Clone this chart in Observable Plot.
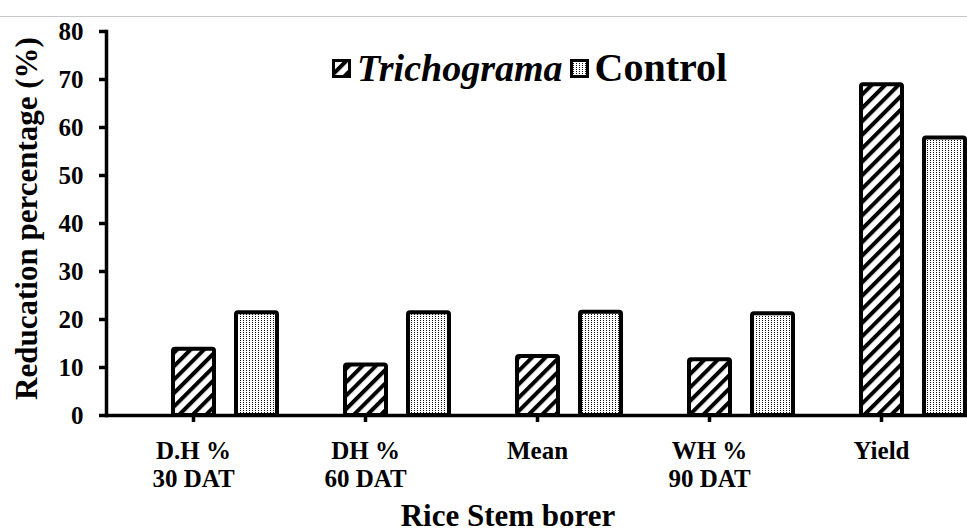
<!DOCTYPE html>
<html><head><meta charset="utf-8">
<script src="https://cdn.jsdelivr.net/npm/d3@7"></script>
<script src="https://cdn.jsdelivr.net/npm/@observablehq/plot@0.6"></script>
<style>
body{margin:0;background:#fff;}
#wrap{position:relative;width:967px;height:532px;font-family:"Liberation Serif",serif;overflow:hidden;}
#topline{position:absolute;left:0;top:15.5px;width:967px;height:1.5px;background:#c8c8c8;}
#legend{position:absolute;left:332px;top:48px;display:flex;align-items:center;font-family:"Liberation Serif",serif;font-weight:bold;font-size:38px;line-height:1;color:#000;white-space:nowrap;}
#legend .sw{display:block;width:19px;height:19px;margin-right:6px;}
#legend .it{font-style:italic;margin-right:7px;}
#legend .up{font-size:40px;}
#chart svg{display:block;}
</style></head><body>
<div id="wrap"><div id="topline"></div><div id="chart"></div><div id="legend"></div></div>
<script>
const categories = ["D.H %\n30 DAT", "DH %\n60 DAT", "Mean", "WH %\n90 DAT", "Yield"];
const seriesNames = ["Trichograma", "Control"];
const trichogramaValues = [13.8, 10.5, 12.3, 11.6, 68.9];
const controlValues = [21.4, 21.4, 21.5, 21.2, 57.8];
const yTicks = [0, 10, 20, 30, 40, 50, 60, 70, 80];
const xLabel = "Rice Stem borer";
const yLabel = "Reducation percentage (%)";

const FONT = "Liberation Serif, serif";
const trichData = categories.map((c, i) => ({category: c, series: seriesNames[0], value: trichogramaValues[i]}));
const controlData = categories.map((c, i) => ({category: c, series: seriesNames[1], value: controlValues[i]}));

const plot = Plot.plot({
  width: 967,
  height: 532,
  marginTop: 31,
  marginBottom: 117,
  marginLeft: 106,
  marginRight: 0,
  style: {fontFamily: FONT, fontSize: "25px", fontWeight: "bold", color: "#000", background: "transparent"},
  x: {domain: categories, padding: 0},
  y: {domain: [0, 80]},
  marks: [
    Plot.barY(trichData, {x: "category", y: "value", fill: "url(#hatch)", stroke: "#000", strokeWidth: 4, strokeLinejoin: "round", insetLeft: 66, insetRight: 65, rx: 2}),
    Plot.barY(controlData, {x: "category", y: "value", fill: "url(#dots)", stroke: "#000", strokeWidth: 4, strokeLinejoin: "round", insetLeft: 129, insetRight: 2, rx: 2}),
    Plot.axisY(yTicks, {tickSize: 7, tickPadding: 16, strokeWidth: 3.5, label: null, fontFamily: FONT, fontSize: 25, fontWeight: "bold"}),
    Plot.axisX({tickSize: 7, tickPadding: 17, lineHeight: 1.12, strokeWidth: 3.5, label: null, fontFamily: FONT, fontSize: 25, fontWeight: "bold"}),
    Plot.frame({anchor: "left", strokeWidth: 3.5}),
    Plot.ruleY([0], {strokeWidth: 3.5}),
    Plot.text([xLabel], {frameAnchor: "bottom", lineAnchor: "top", dy: 88, dx: -29, fontSize: 31, fontFamily: FONT, fontWeight: "bold", text: d => d}),
    Plot.text([yLabel], {frameAnchor: "left", rotate: -90, textAnchor: "middle", lineAnchor: "middle", dx: -79, dy: -5, fontSize: 31, fontFamily: FONT, fontWeight: "bold", text: d => d})
  ]
});

const svg = d3.select(plot);
const defs = svg.insert("defs", ":first-child");
const h = defs.append("pattern").attr("id", "hatch").attr("patternUnits", "userSpaceOnUse")
  .attr("width", 9.5).attr("height", 9.5).attr("patternTransform", "rotate(45)");
h.append("rect").attr("width", 9.5).attr("height", 9.5).attr("fill", "#fff");
h.append("rect").attr("width", 4).attr("height", 9.5).attr("fill", "#000");
const p = defs.append("pattern").attr("id", "dots").attr("patternUnits", "userSpaceOnUse")
  .attr("width", 3).attr("height", 2);
p.append("rect").attr("width", 3).attr("height", 2).attr("fill", "#fff");
p.append("rect").attr("width", 1).attr("height", 1).attr("fill", "#111");

document.getElementById("chart").appendChild(plot);

// legend
const legend = document.getElementById("legend");
const fills = ["url(#hatch)", "url(#dots)"];
seriesNames.forEach((name, i) => {
  const ns = "http://www.w3.org/2000/svg";
  const s = document.createElementNS(ns, "svg");
  s.setAttribute("class", "sw");
  s.setAttribute("viewBox", "0 0 19 19");
  const r = document.createElementNS(ns, "rect");
  r.setAttribute("x", 1.5); r.setAttribute("y", 1.5);
  r.setAttribute("width", 16); r.setAttribute("height", 16);
  r.setAttribute("fill", fills[i]); r.setAttribute("stroke", "#000"); r.setAttribute("stroke-width", 3);
  s.appendChild(r);
  legend.appendChild(s);
  const t = document.createElement("span");
  t.textContent = name;
  t.className = i === 0 ? "it" : "up";
  legend.appendChild(t);
});
</script>
</body></html>
